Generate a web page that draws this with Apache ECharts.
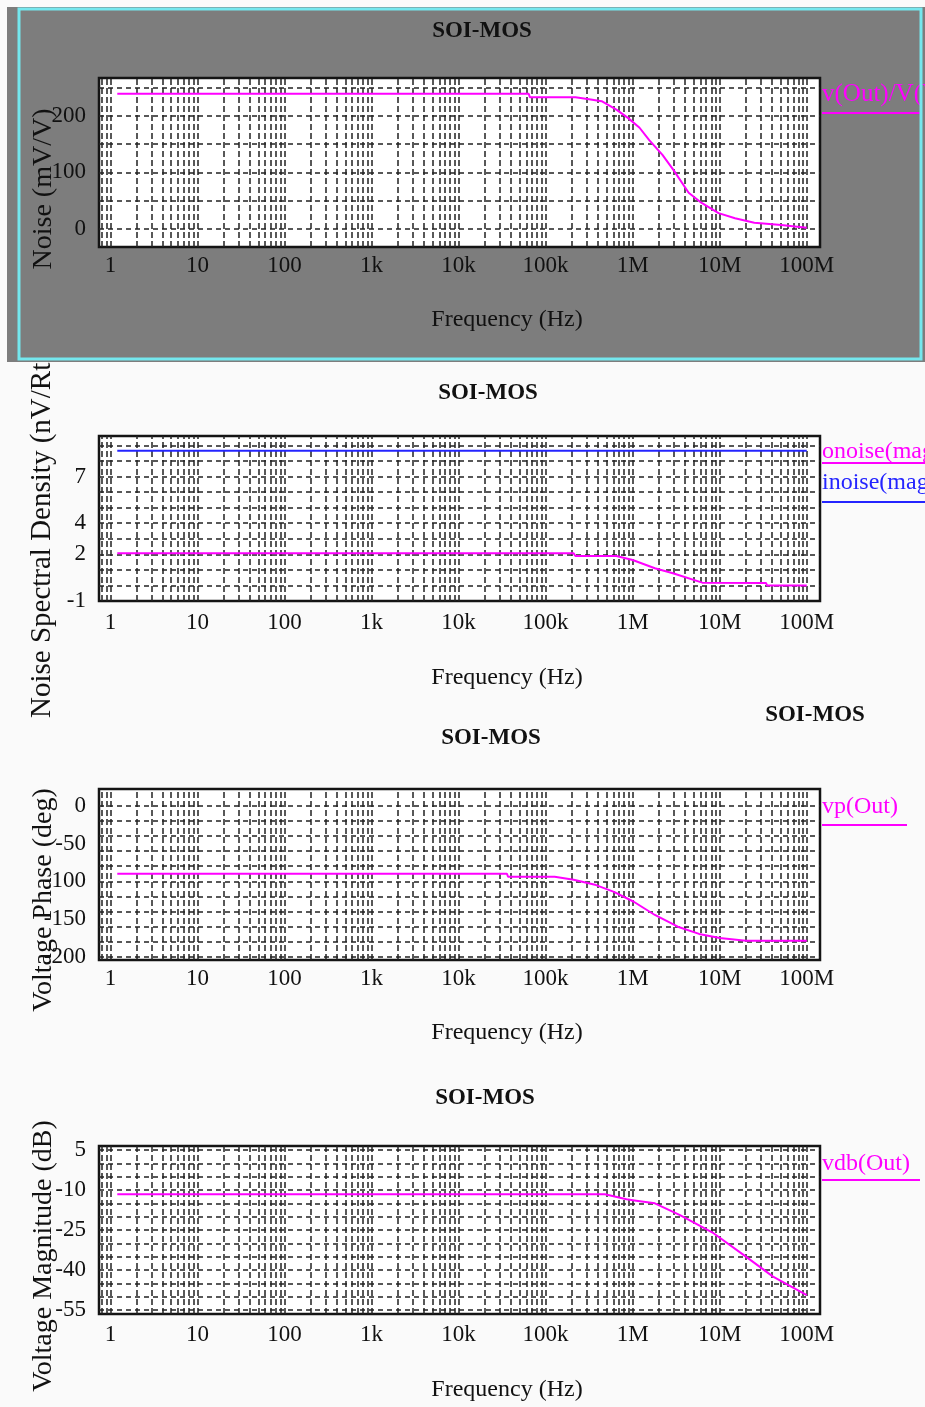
<!DOCTYPE html>
<html><head><meta charset="utf-8">
<script src="https://cdn.jsdelivr.net/npm/echarts@6/dist/echarts.min.js"></script>
<style>
html,body{margin:0;padding:0;background:#fafafa;width:925px;height:1407px;overflow:hidden;position:relative}
.p{position:absolute;left:0;width:925px}
</style></head><body>
<div id="p1" class="p" style="top:0;height:362px"></div>
<div id="p2" class="p" style="top:362px;height:358px"></div>
<div id="p3" class="p" style="top:700px;height:375px"></div>
<div id="p4" class="p" style="top:1075px;height:332px"></div>
<script>
// ---------- tick labels ----------
const decadeValues = [1, 10, 100, 1e3, 1e4, 1e5, 1e6, 1e7, 1e8];
const decadeLabels = ['1', '10', '100', '1k', '10k', '100k', '1M', '10M', '100M'];
const yLabels1 = [0, 100, 200];
const yLabels2 = [-1, 2, 4, 7];
const yLabels3 = [0, -50, -100, -150, -200];
const yLabels4 = [5, -10, -25, -40, -55];
// horizontal grid rows
const hGrid1 = [0, 50, 100, 150, 200, 250];
const hGrid2 = [0, 1, 2, 3, 4, 5, 6, 7, 8, 9];
const hGrid3 = [0, -20, -40, -60, -80, -100, -120, -140, -160, -180, -200];
const hGrid4 = [5, 0, -5, -10, -15, -20, -25, -30, -35, -40, -45, -50, -55];
// log grid multipliers
const gridMultipliers = [1, 2, 3, 4, 5, 6, 7, 8, 9];

// ---------- series data ----------
// Panel 1: v(Out)/V(Vin) noise (mV/V)
const noiseFreq = [1.2, 6.4e4, 6.6e4, 2.2e5, 3.3e5, 4.4e5, 6.5e5, 8.9e5, 1.2e6, 1.55e6, 2.2e6, 2.95e6, 4.4e6, 6.2e6, 9.7e6, 1.5e7, 2.5e7, 5.1e7, 1e8];
const noiseVal  = [239, 239, 233, 233, 229, 226, 211, 196, 179, 157, 131, 104, 64, 46, 28, 19, 11, 7, 2];
// Panel 2: onoise / inoise (nV/RtHz)
const onoiseFreq = [1.2, 2.1e5, 2.2e5, 6.5e5, 1.0e6, 1.8e6, 2.9e6, 6.3e6, 3.4e7, 3.5e7, 1e8];
const onoiseVal  = [2.06, 2.06, 1.89, 1.89, 1.63, 1.10, 0.78, 0.18, 0.16, 0.0, 0.0];
const inoiseFreq = [1.2, 1e8];
const inoiseVal  = [8.66, 8.66];
// Panel 3: vp(Out) phase (deg)
const phaseFreq = [1.2, 3.6e4, 3.7e4, 1.27e5, 2.1e5, 3.8e5, 6.1e5, 1.03e6, 1.8e6, 3.3e6, 5.8e6, 1e7, 2e7, 1e8];
const phaseVal  = [-90, -90, -94, -94, -98, -105, -114, -127, -144.5, -160, -169.5, -175, -178.5, -178.5];
// Panel 4: vdb(Out) magnitude (dB)
const magFreq = [1.2, 4.8e5, 8.5e5, 1.1e6, 1.8e6, 3.5e6, 8.5e6, 2e7, 4.1e7, 1e8];
const magVal  = [-11.6, -11.6, -13.5, -14.0, -15, -19.4, -26.2, -35, -42.5, -49.4];

const X_MIN = 0.74, X_MAX = 1.42e8;
const FONT = "'Liberation Serif', 'DejaVu Serif', serif";
const MAGENTA = '#ff00ff', BLUE = '#2424ff';

const vGridFreqs = [];
for (let e = -1; e <= 8; e++) {
  for (const m of gridMultipliers) {
    const f = m * Math.pow(10, e);
    if (f >= X_MIN && f <= X_MAX) vGridFreqs.push(f);
  }
}

function zip(a, b) { return a.map((v, i) => [v, b[i]]); }
function decadeLabel(v) {
  const i = decadeValues.findIndex(d => Math.abs(v / d - 1) < 1e-6);
  return i >= 0 ? decadeLabels[i] : '';
}

function gridSeries(hGrid) {
  const common = { symbol: ['none', 'none'], silent: true, label: { show: false }, emphasis: { disabled: true }, animation: false };
  return [
    { type: 'line', data: [], z: 1, silent: true,
      markLine: Object.assign({}, common, {
        lineStyle: { color: '#222', width: 1.5, type: [6, 3] },
        data: vGridFreqs.map(f => ({ xAxis: f }))
      }) },
    { type: 'line', data: [], z: 1, silent: true,
      markLine: Object.assign({}, common, {
        lineStyle: { color: '#222', width: 1.5, type: [5, 4] },
        data: hGrid.map(v => ({ yAxis: v }))
      }) }
  ];
}

function lineSeries(name, x, y, color) {
  return { name, type: 'line', data: zip(x, y), showSymbol: false, symbol: 'none', z: 5,
           lineStyle: { color, width: 2 }, silent: true };
}

function txt(text, x, y, opts) {
  return Object.assign({ type: 'text', x, y, z: 50,
    style: Object.assign({ text, fill: '#111', font: `24px ${FONT}`, align: 'center', verticalAlign: 'middle' }, (opts && opts.style) || {}) },
    opts && opts.rotation !== undefined ? { rotation: opts.rotation } : {});
}
function uline(x1, x2, y, color) {
  return { type: 'line', z: 50, shape: { x1, y1: y, x2, y2: y }, style: { stroke: color, lineWidth: 2 } };
}

function makeOption(p) {
  return {
    animation: false,
    backgroundColor: 'transparent',
    grid: { show: true, left: 99, right: 105, top: p.top, height: p.h,
            backgroundColor: '#ffffff', borderColor: '#141414', borderWidth: 2.5 },
    xAxis: { type: 'log', logBase: 10, min: X_MIN, max: X_MAX,
      axisLine: { show: false }, axisTick: { show: false }, splitLine: { show: false }, minorSplitLine: { show: false },
      axisLabel: { formatter: decadeLabel, fontFamily: FONT, fontSize: 23, color: '#111', margin: p.xm,
                   showMinLabel: true, showMaxLabel: true, hideOverlap: false } },
    yAxis: { type: 'value', min: p.ymin, max: p.ymax,
      axisLine: { show: false }, axisTick: { show: false }, splitLine: { show: false },
      axisLabel: { customValues: p.ylabels, fontFamily: FONT, fontSize: 23, color: '#111', margin: 13 } },
    series: gridSeries(p.hgrid).concat(p.series),
    graphic: p.graphic
  };
}

const panels = [
  { id: 'p1', top: 78, h: 169, xm: 7, ymin: -32, ymax: 267, ylabels: yLabels1, hgrid: hGrid1,
    series: [lineSeries('v(Out)/V(Vin)', noiseFreq, noiseVal, MAGENTA)],
    graphic: [
      { type: 'rect', z: -10, silent: true, shape: { x: 7, y: 7, width: 918, height: 355 }, style: { fill: '#7d7d7d' } },
      txt('SOI-MOS', 482, 31, { style: { font: `bold 23px ${FONT}` } }),
      txt('Frequency (Hz)', 507, 320),
      txt('Noise (mV/V)', 44, 189, { rotation: Math.PI / 2, style: { font: `28px ${FONT}` } }),
      txt('v(Out)/V(Vin)', 822, 94, { style: { fill: MAGENTA, align: 'left', font: `25px ${FONT}` } }),
      uline(822, 921, 113, MAGENTA),
      { type: 'rect', z: 60, silent: true, shape: { x: 19, y: 9, width: 902, height: 350 },
        style: { fill: 'none', stroke: '#74e7ee', lineWidth: 3 } }
    ] },
  { id: 'p2', top: 74, h: 165, xm: 10, ymin: -1, ymax: 9.6, ylabels: yLabels2, hgrid: hGrid2,
    series: [lineSeries('onoise(mag)', onoiseFreq, onoiseVal, MAGENTA),
             lineSeries('inoise(mag)', inoiseFreq, inoiseVal, BLUE)],
    graphic: [
      txt('SOI-MOS', 488, 31, { style: { font: `bold 23px ${FONT}` } }),
      txt('Frequency (Hz)', 507, 316),
      txt('Noise Spectral Density (nV/RtHz)', 42, 356, { rotation: Math.PI / 2, style: { font: `29px ${FONT}`, align: 'left' } }),
      txt('onoise(mag)', 822, 90, { style: { fill: MAGENTA, align: 'left' } }),
      uline(822, 925, 101, MAGENTA),
      txt('inoise(mag)', 822, 121, { style: { fill: BLUE, align: 'left' } }),
      uline(822, 925, 140, BLUE)
    ] },
  { id: 'p3', top: 89, h: 171, xm: 7, ymin: -204, ymax: 22, ylabels: yLabels3, hgrid: hGrid3,
    series: [lineSeries('vp(Out)', phaseFreq, phaseVal, MAGENTA)],
    graphic: [
      txt('SOI-MOS', 491, 38, { style: { font: `bold 23px ${FONT}` } }),
      txt('SOI-MOS', 815, 15, { style: { font: `bold 23px ${FONT}` } }),
      txt('Frequency (Hz)', 507, 333),
      txt('Voltage Phase (deg)', 44, 200, { rotation: Math.PI / 2, style: { font: `28px ${FONT}` } }),
      txt('vp(Out)', 822, 107, { style: { fill: MAGENTA, align: 'left' } }),
      uline(822, 907, 125, MAGENTA)
    ] },
  { id: 'p4', top: 71, h: 168, xm: 9, ymin: -56.5, ymax: 6.5, ylabels: yLabels4, hgrid: hGrid4,
    series: [lineSeries('vdb(Out)', magFreq, magVal, MAGENTA)],
    graphic: [
      txt('SOI-MOS', 485, 23, { style: { font: `bold 23px ${FONT}` } }),
      txt('Frequency (Hz)', 507, 315),
      txt('Voltage Magnitude (dB)', 44, 181, { rotation: Math.PI / 2, style: { font: `28px ${FONT}` } }),
      txt('vdb(Out)', 822, 89, { style: { fill: MAGENTA, align: 'left' } }),
      uline(822, 920, 105, MAGENTA)
    ] }
];

for (const p of panels) {
  const chart = echarts.init(document.getElementById(p.id), null, { renderer: 'canvas' });
  chart.setOption(makeOption(p));
}
</script>
</body></html>
